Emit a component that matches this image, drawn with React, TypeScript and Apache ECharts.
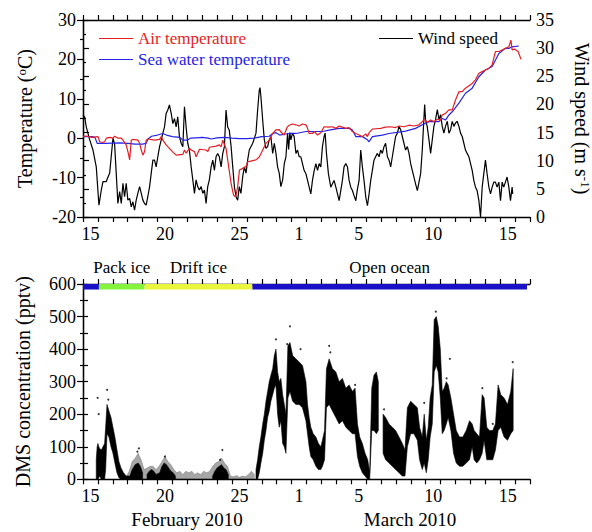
import React, { useEffect, useRef } from 'react';
import * as echarts from 'echarts';

const FONT = "'Liberation Serif', 'Times New Roman', serif";

// x positions are days since 15 Feb 2010 00:00
const dayLabels = ['15','16','17','18','19','20','21','22','23','24','25','26','27','28','1','2','3','4','5','6','7','8','9','10','11','12','13','14','15','16'];
const shownLabelIdx = [0, 5, 10, 14, 18, 23, 28];

const airTemp = [
[0,0.5],[0.23,0.55],[0.6,0.2],[1.01,0.4],[1.12,-0.9],[1.3,-1.1],[1.45,-0.9],[1.57,0],[1.8,0.2],[2.01,0],[2.12,0.5],[2.35,0],[2.57,0],[2.68,-0.5],[2.9,-1.7],[3.05,-4],[3.13,-5.5],[3.24,-0.5],[3.35,-0.3],[3.69,-0.5],[3.8,-1.3],[3.91,-3.0],[4.02,-4.3],[4.13,-3.4],[4.24,-0.5],[4.36,-0.2],[4.8,-0.5],[5.14,-0.3],[5.25,0.4],[5.36,-0.5],[5.58,-1.7],[6.0,-3.4],[6.25,-4.3],[6.7,-4.1],[6.81,-3.0],[6.92,-3.8],[7.15,-2.6],[7.26,-3.0],[7.48,-3.4],[7.59,-4.7],[7.82,-2.8],[8.26,-3.0],[8.38,-3.4],[8.49,-2.3],[8.93,-2.0],[9.16,-1.7],[9.27,-2.2],[9.38,-0.5],[9.6,-2.6],[9.71,-5.5],[9.94,-11.5],[10.1,-14.4],[10.2,-14.8],[10.28,-14.4],[10.38,-12.3],[10.5,-8.1],[10.94,-7.2],[11.05,-6.0],[11.61,-5.5],[11.84,-4.7],[12.06,-3.0],[12.28,-1.3],[12.5,-0.5],[12.73,1.2],[12.95,2.1],[13.17,2.2],[13.3,1.5],[13.5,0.8],[13.7,2.8],[13.84,3.3],
[14.06,3.6],[14.29,3.4],[14.51,3.1],[14.73,3.6],[14.96,3.4],[15.07,2.5],[15.18,1.2],[15.4,1.2],[15.52,1.7],[15.74,0.8],[15.96,1.4],[16.18,2.9],[16.47,2.8],[16.74,2.9],[16.97,2.5],[17.19,3.1],[17.41,2.8],[17.64,2.5],[17.86,2.7],[18.08,1.7],[18.31,1.2],[18.53,0.8],[18.75,0.4],[18.98,1.1],[19.09,0.4],[19.2,1.4],[19.42,2.3],[19.64,2.4],[19.98,2.5],[20.31,2.8],[20.65,2.9],[20.98,2.7],[21.21,3.1],[21.54,2.9],[21.88,3.3],[22.21,3.1],[22.55,3.4],[22.77,4.2],[22.93,4.8],[23.1,4.0],[23.33,4.6],[23.55,4.2],[23.78,4.8],[24.0,4.5],[24.11,5.9],[24.33,6.3],[24.56,7.2],[24.78,7.2],[25.0,9.7],[25.23,11.8],[25.45,11.8],[25.67,12.7],[25.9,13.3],[26.12,13.9],[26.34,14.8],[26.57,16.5],[26.79,16.9],[27.01,17.3],[27.24,17.7],[27.46,18.6],[27.57,20.3],[27.68,22.0],[27.91,22.0],[28.13,22.4],[28.35,22.8],[28.58,23.2],[28.72,24.9],[28.8,22.4],[28.98,22.6],[29.2,22.0],[29.4,20.0]
];

const seaTemp = [
[0,0.4],[0.6,0.4],[0.8,0.2],[0.95,-1.3],[1.5,-1.3],[2.5,-1.2],[3.0,-1.3],[3.5,-1.5],[4.0,-1.5],[4.24,-1.3],[4.36,-0.2],[4.6,0.5],[5.0,0.8],[5.36,1.2],[5.6,0.8],[6.0,0.4],[6.5,0.2],[6.7,-0.5],[7.0,-0.5],[7.2,0],[7.6,0.1],[8.0,0.2],[8.4,0],[8.6,-0.2],[9.0,0.1],[9.5,0.2],[10.0,0],[10.5,-0.1],[11.0,-0.1],[11.5,0],[12.0,0.4],[12.5,0.5],[12.73,1.2],[12.95,1.4],[13.2,0.8],[13.5,1.0],[13.84,1.2],[14.29,1.2],[14.96,1.7],[16.07,1.7],[16.6,2.1],[17.19,2.5],[17.86,2.5],[18.08,2.1],[18.31,0.4],[18.75,0.4],[19.09,-0.4],[19.2,-0.9],[19.42,0.4],[20.09,0.8],[20.54,1.2],[21.65,1.8],[22.32,2.5],[22.77,3.4],[23.22,4.2],[23.66,4.2],[23.89,4.2],[24.11,5.0],[24.33,4.6],[24.56,5.9],[24.78,6.7],[25.23,8.9],[25.67,11.4],[26.12,12.7],[26.57,15.6],[27.01,17.3],[27.46,18.2],[27.91,21.5],[28.35,22.8],[28.58,22.8],[28.8,23.2],[29.25,23.4]
];

const windSpeed = [
[0,18.1],[0.11,17.8],[0.22,16.0],[0.33,14.9],[0.45,13.7],[0.67,11.9],[0.89,8.9],[1.07,2.1],[1.23,4.8],[1.34,6.3],[1.56,6.3],[1.79,7.8],[2.01,14.0],[2.12,13.0],[2.23,7.8],[2.34,2.4],[2.46,4.5],[2.57,2.4],[2.68,6.0],[2.79,3.6],[2.9,6.0],[3.01,3.0],[3.13,3.3],[3.24,1.8],[3.35,2.7],[3.46,1.2],[3.57,3.0],[3.68,4.2],[3.8,5.4],[3.91,4.2],[4.02,3.0],[4.13,2.4],[4.24,2.1],[4.35,3.6],[4.47,5.4],[4.58,7.8],[4.69,10.1],[4.8,10.1],[4.91,8.9],[5.02,10.7],[5.14,12.5],[5.25,13.7],[5.36,14.9],[5.47,16.0],[5.58,18.4],[5.69,19.0],[5.8,19.9],[5.92,18.4],[6.03,16.6],[6.14,17.5],[6.25,16.0],[6.36,17.8],[6.47,14.3],[6.59,13.1],[6.7,12.5],[6.81,19.6],[6.92,16.0],[7.03,13.1],[7.14,11.9],[7.26,8.9],[7.37,6.6],[7.48,4.2],[7.59,6.6],[7.7,5.4],[7.81,4.8],[7.93,5.4],[8.04,4.2],[8.15,4.8],[8.26,2.4],[8.37,5.4],[8.48,6.6],[8.6,8.9],[8.71,10.1],[8.82,8.3],[8.93,10.7],[9.04,11.3],[9.15,10.7],[9.27,8.9],[9.38,11.3],[9.49,12.5],[9.6,19.0],[9.71,16.0],[9.82,15.4],[9.94,12.5],[10.05,8.9],[10.16,5.4],[10.27,3.6],[10.38,3.0],[10.49,5.4],[10.6,4.2],[10.72,7.2],[10.83,8.9],[10.94,7.8],[11.05,10.1],[11.16,11.9],[11.39,13.1],[11.61,14.9],[11.72,19.0],[11.83,22.5],[11.88,23.0],[11.94,21.4],[12.06,17.2],[12.17,13.7],[12.28,12.2],[12.39,12.5],[12.5,13.7],[12.61,14.3],[12.73,11.3],[12.84,13.1],[12.95,11.3],[13.06,8.9],[13.17,7.8],[13.28,5.4],[13.4,6.6],[13.51,9.5],[13.62,10.7],[13.73,14.9],[13.8,12.0],[13.88,15.0],[13.95,13.7],[14.06,14.9],[14.17,14.3],[14.29,11.3],[14.4,11.9],
[14.51,10.7],[14.62,10.7],[14.73,9.5],[14.84,8.3],[14.96,7.7],[15.07,6.5],[15.18,5.3],[15.29,4.1],[15.4,6.5],[15.52,8.3],[15.63,9.5],[15.74,8.3],[15.85,9.5],[15.96,8.9],[16.07,12.5],[16.18,14.3],[16.25,14.9],[16.34,11.3],[16.47,7.7],[16.63,5.3],[16.74,5.9],[16.85,6.5],[16.97,5.3],[17.08,4.1],[17.19,2.9],[17.3,4.7],[17.41,6.5],[17.52,8.9],[17.64,9.5],[17.75,8.9],[17.86,6.5],[17.97,5.3],[18.08,4.7],[18.19,3.8],[18.31,2.9],[18.42,5.0],[18.53,6.5],[18.64,11.9],[18.75,8.9],[18.86,6.5],[18.98,3.5],[19.09,2.0],[19.2,4.1],[19.31,6.5],[19.42,8.3],[19.53,10.1],[19.64,10.7],[19.76,11.3],[19.87,10.7],[19.98,11.9],[20.09,11.3],[20.2,12.5],[20.31,13.1],[20.43,10.7],[20.54,10.1],[20.65,8.9],[20.76,10.7],[20.87,12.5],[20.98,14.3],[21.1,14.9],[21.21,16.1],[21.32,15.5],[21.43,14.3],[21.54,13.1],[21.65,11.9],[21.77,12.5],[21.88,11.3],[21.99,9.5],[22.1,8.3],[22.21,7.1],[22.32,5.9],[22.44,4.7],[22.55,6.2],[22.66,7.7],[22.77,11.9],[22.84,15.5],[22.93,20.0],[22.99,17.3],[23.1,16.1],[23.22,13.7],[23.33,11.3],[23.44,13.7],[23.55,16.1],[23.66,17.3],[23.78,19.1],[23.89,17.3],[24.0,18.2],[24.11,16.1],[24.22,14.9],[24.33,16.1],[24.45,17.0],[24.56,14.9],[24.67,15.5],[24.78,17.0],[24.89,16.1],[25.0,16.7],[25.11,17.0],[25.23,16.1],[25.34,14.9],[25.45,14.3],[25.56,13.1],[25.67,11.9],[25.78,11.3],[25.9,10.7],[26.01,9.5],[26.12,8.3],[26.23,6.5],[26.34,5.3],[26.45,4.7],[26.57,2.9],[26.68,0],[26.79,5.3],[26.9,7.7],[27.01,10.1],[27.12,7.7],[27.24,5.3],[27.35,4.1],[27.46,5.3],[27.57,6.2],[27.68,6.2],[27.79,5.3],[27.91,6.2],[28.02,2.9],[28.13,6.2],[28.24,5.3],[28.35,6.2],[28.46,7.1],[28.58,5.3],[28.69,2.9],[28.8,5.3],[28.84,4.1]
];

// DMS concentration: [day, low, high] of the dense point cloud
const dmsDense = [
[0.89,0,60],[0.95,0,100],[1.0,0,110],[1.06,5,100],[1.12,10,95],[1.23,0,90],[1.34,0,100],[1.45,0,110],
[1.52,30,160],[1.61,140,230],[1.74,130,210],[1.88,100,190],[2.01,80,160],[2.14,50,130],[2.28,20,90],[2.41,5,55],[2.55,0,35],[2.72,0,20],[2.9,0,10],
[3.15,0,10],[3.3,0,30],[3.5,0,45],[3.7,0,50],[3.85,0,40],[4.0,0,20],
[4.3,0,15],[4.45,0,25],[4.6,0,30],[4.75,0,25],[4.9,0,15],
[5.15,0,20],[5.3,0,40],[5.45,0,50],[5.6,0,45],[5.75,0,35],[5.9,0,25],[6.05,0,20],[6.2,0,10],
[8.7,0,10],[8.85,0,25],[9.0,0,35],[9.15,0,40],[9.3,0,45],[9.45,0,35],[9.6,0,30],[9.75,0,15],
[11.61,0,30],[11.72,0,60],[11.83,20,100],[11.94,50,130],[12.06,80,170],[12.17,120,200],[12.28,150,240],[12.39,190,270],[12.5,210,300],[12.61,240,320],[12.73,260,340],[12.84,280,380],[12.95,290,400],[13.06,200,330],[13.17,160,300],[13.28,180,310],[13.4,110,260],[13.51,100,230],[13.62,80,200],[13.75,250,410],[13.89,270,420],[14.07,240,380],[14.29,230,370],[14.51,230,360],[14.73,220,350],[14.96,180,300],[15.07,140,230],[15.18,100,190],[15.29,70,160],[15.45,60,140],[15.63,40,130],[15.8,30,110],[15.96,30,100],[16.07,40,120],[16.21,60,150],[16.34,220,340],[16.52,230,370],[16.74,210,340],[16.97,190,330],[17.19,170,300],[17.41,180,310],[17.64,160,280],[17.86,150,290],[18.08,140,270],[18.26,140,280],[18.42,70,170],[18.57,40,130],[18.75,20,110],[18.93,10,80],[19.11,0,60],[19.24,0,20],
[19.38,150,280],[19.53,150,320],[19.69,140,330],[19.82,150,300],
[20.14,80,200],[20.31,60,190],[20.54,50,170],[20.76,40,160],[20.98,30,150],[21.21,20,130],[21.43,10,110],[21.61,10,90],[21.77,100,220],[21.99,140,240],[22.21,140,230],[22.44,120,220],[22.59,60,160],[22.77,30,130],[22.9,50,200],[23.04,20,120],[23.17,60,160],[23.3,130,250],[23.44,170,290],[23.57,330,490],[23.71,350,500],[23.84,330,470],[23.98,250,400],[24.11,140,270],[24.24,150,280],[24.38,170,300],[24.51,190,290],[24.69,150,250],[24.87,80,200],[25.05,50,150],[25.27,40,130],[25.49,40,130],[25.72,50,150],[25.94,60,180],[26.12,100,170],[26.25,60,150],[26.43,50,140],[26.61,60,130],[26.79,80,260],[26.92,120,250],[27.1,60,160],[27.28,60,150],[27.5,60,150],[27.68,90,170],[27.86,150,290],[28.04,160,260],[28.26,130,250],[28.49,120,230],[28.71,140,270],[28.87,150,340]
];

// DMS concentration: [day, low, high] of the sparse low-level points
const dmsSparse = [
[2.9,0,8],[3.1,0,25],[3.3,0,55],[3.5,0,65],[3.7,0,80],[3.9,0,60],[4.1,0,30],[4.3,0,35],[4.5,0,40],[4.7,0,40],[4.9,0,30],[5.1,0,40],[5.3,0,55],[5.5,0,70],[5.7,0,55],[5.9,0,45],[6.1,0,30],[6.3,0,20],[6.5,0,25],[6.7,0,15],[6.9,0,25],[7.1,0,20],[7.3,0,25],[7.5,0,15],[7.7,0,20],[7.9,0,15],[8.1,0,25],[8.3,0,20],[8.5,0,25],[8.7,0,40],[8.9,0,50],[9.1,0,55],[9.3,0,65],[9.5,0,50],[9.7,0,40],[9.9,0,10],[10.1,0,8],[10.3,0,12],[10.5,0,6],[10.7,0,10],[10.9,0,8],[11.1,0,15],[11.3,0,25],[11.5,0,15]
];

const dmsOutliers = [
[0.98,250],[1.05,200],[1.62,275],[1.7,245],[3.75,95],[3.65,85],[5.5,70],[9.35,90],[9.2,60],[12.95,430],[13.89,470],[13.7,415],[16.52,410],[16.6,390],[18.26,290],[22.9,235],[23.68,515],[24.62,370],[24.4,310],[26.8,280],[28.84,360],[27.5,170],[20.2,215],[14.6,400]
];

const zoneNames = ['', 'Pack ice', 'Drift ice', 'Open ocean'];
const zoneStart = [0, 1.07, 4.13, 11.37];
const zoneEnd = [1.07, 4.13, 11.37, 29.8];
const zoneColors = ['#1a10c8', '#84f43a', '#eaf63c', '#1a10c8'];

const RED = '#e51e25';
const BLUE = '#2424e8';

// Draws each contiguous run of [day, low, high] ranges as one filled polygon.
function bandRenderer(arr: number[][], maxGap: number, fill: string, opacity: number) {
  return (params: any, api: any) => {
    const i = params.dataIndex;
    const isStart = i === 0 || arr[i][0] - arr[i - 1][0] > maxGap;
    if (!isStart) return null;
    let j = i;
    while (j + 1 < arr.length && arr[j + 1][0] - arr[j][0] <= maxGap) j++;
    if (j === i) {
      const a = api.coord([arr[i][0], arr[i][2]]);
      const b = api.coord([arr[i][0], arr[i][1]]);
      return { type: 'rect', shape: { x: a[0] - 0.75, y: a[1], width: 1.5, height: b[1] - a[1] }, style: { fill, opacity } };
    }
    const pts: number[][] = [];
    for (let k = i; k <= j; k++) pts.push(api.coord([arr[k][0], arr[k][2]]));
    for (let k = j; k >= i; k--) pts.push(api.coord([arr[k][0], arr[k][1]]));
    return { type: 'polygon', shape: { points: pts }, style: { fill, opacity, stroke: fill, lineWidth: 0.6 } };
  };
}

const axisLineStyle = { color: '#000', width: 1.3 };
const labelStyle = { color: '#000', fontSize: 18, fontFamily: FONT };

function xAxesFor(grid: number) {
  const base = {
    gridIndex: grid, type: 'value', min: 0, max: 30, interval: 1,
    axisLine: { show: true, lineStyle: axisLineStyle, onZero: false },
    axisTick: { show: true, inside: false, length: 5, lineStyle: { color: '#000', width: 1.2 } },
    axisLabel: { show: false }, splitLine: { show: false },
  };
  return [
    { ...base, position: 'bottom' },
    { ...base, position: 'top' },
  ];
}

function labelAxisFor(grid: number) {
  return {
    gridIndex: grid, type: 'category', position: 'bottom', data: dayLabels, boundaryGap: true,
    axisLine: { show: false }, axisTick: { show: false }, splitLine: { show: false },
    axisLabel: { ...labelStyle, margin: 8, interval: (idx: number) => shownLabelIdx.includes(idx) },
  };
}

const nameRich = {
  n: { fontSize: 20, fontFamily: FONT, color: '#000' },
  s: { fontSize: 13, fontFamily: FONT, color: '#000', verticalAlign: 'top' },
};

const option: any = {
  animation: false,
  backgroundColor: '#fff',
  textStyle: { fontFamily: FONT },
  grid: [
    { left: 83, right: 62, top: 20, height: 197, containLabel: false, outerBoundsMode: 'none' },
    { left: 83, right: 62, top: 284, height: 195.3, containLabel: false, outerBoundsMode: 'none' },
  ],
  xAxis: [
    ...xAxesFor(0), // 0,1
    ...xAxesFor(1), // 2,3
    labelAxisFor(0), // 4
    labelAxisFor(1), // 5
  ],
  yAxis: [
    {
      gridIndex: 0, type: 'value', position: 'left', min: -20, max: 30, interval: 10,
      axisLine: { show: true, lineStyle: axisLineStyle },
      axisTick: { show: true, length: 6, lineStyle: { color: '#000', width: 1.2 } },
      minorTick: { show: true, splitNumber: 2, length: 3, lineStyle: { color: '#000', width: 1.2 } },
      axisLabel: { ...labelStyle, margin: 7 }, splitLine: { show: false },
      name: '{n|Temperature (}{s|o}{n|C)}', nameLocation: 'middle', nameGap: 48, nameRotate: 90,
      nameTextStyle: { rich: nameRich },
    },
    {
      gridIndex: 0, type: 'value', position: 'right', min: 0, max: 35, interval: 5,
      axisLine: { show: true, lineStyle: axisLineStyle },
      axisTick: { show: true, length: 6, lineStyle: { color: '#000', width: 1.2 } },
      minorTick: { show: true, splitNumber: 2, length: 3, lineStyle: { color: '#000', width: 1.2 } },
      axisLabel: { ...labelStyle, margin: 6 }, splitLine: { show: false },
      name: '{n|Wind speed (m s}{s|-1}{n|)}', nameLocation: 'middle', nameGap: 42, nameRotate: -90,
      nameTextStyle: { rich: nameRich },
    },
    {
      gridIndex: 1, type: 'value', position: 'left', min: 0, max: 600, interval: 100,
      axisLine: { show: true, lineStyle: axisLineStyle },
      axisTick: { show: true, length: 6, lineStyle: { color: '#000', width: 1.2 } },
      minorTick: { show: true, splitNumber: 2, length: 3, lineStyle: { color: '#000', width: 1.2 } },
      axisLabel: { ...labelStyle, margin: 7 }, splitLine: { show: false },
      name: 'DMS concentration (pptv)', nameLocation: 'middle', nameGap: 50, nameRotate: 90,
      nameTextStyle: { fontSize: 20, fontFamily: FONT, color: '#000' },
    },
    {
      gridIndex: 1, type: 'value', position: 'right', min: 0, max: 600, interval: 50,
      axisLine: { show: true, lineStyle: axisLineStyle },
      axisTick: { show: true, length: 5, lineStyle: { color: '#000', width: 1.2 } },
      axisLabel: { show: false }, splitLine: { show: false },
    },
  ],
  legend: [
    {
      orient: 'vertical', left: 94, top: 25, itemWidth: 34, itemHeight: 14, itemGap: 4,
      icon: 'path://M0,0L0,0M0,14L0,14M0,6.4L34,6.4L34,7.6L0,7.6Z',
      textStyle: { fontSize: 17, fontFamily: FONT },
      data: [
        { name: 'Air temperature', textStyle: { color: RED } },
        { name: 'Sea water temperature', textStyle: { color: BLUE } },
      ],
    },
    {
      orient: 'vertical', left: 374, top: 25, itemWidth: 34, itemHeight: 14,
      icon: 'path://M0,0L0,0M0,14L0,14M0,6.4L34,6.4L34,7.6L0,7.6Z',
      textStyle: { fontSize: 17, fontFamily: FONT, color: '#000' },
      data: [{ name: 'Wind speed' }],
    },
  ],
  graphic: [
    { type: 'text', x: 187, y: 519, style: { text: 'February 2010', font: `19px ${FONT}`, fill: '#000', textAlign: 'center', textVerticalAlign: 'middle' } },
    { type: 'text', x: 410, y: 519, style: { text: 'March 2010', font: `19px ${FONT}`, fill: '#000', textAlign: 'center', textVerticalAlign: 'middle' } },
  ],
  series: [
    {
      name: 'Wind speed', type: 'line', xAxisIndex: 0, yAxisIndex: 1, data: windSpeed,
      symbol: 'none', lineStyle: { color: '#000', width: 1.2 }, itemStyle: { color: '#000' },
    },
    {
      name: 'Sea water temperature', type: 'line', xAxisIndex: 0, yAxisIndex: 0, data: seaTemp,
      symbol: 'none', lineStyle: { color: BLUE, width: 1.2 }, itemStyle: { color: BLUE },
    },
    {
      name: 'Air temperature', type: 'line', xAxisIndex: 0, yAxisIndex: 0, data: airTemp,
      symbol: 'none', lineStyle: { color: RED, width: 1.2 }, itemStyle: { color: RED },
    },
    {
      name: 'DMS sparse', type: 'custom', xAxisIndex: 2, yAxisIndex: 2, data: dmsSparse,
      encode: { x: 0, y: [1, 2] }, clip: true,
      renderItem: bandRenderer(dmsSparse, 0.25, '#000', 0.35),
    },
    {
      name: 'DMS dense', type: 'custom', xAxisIndex: 2, yAxisIndex: 2, data: dmsDense,
      encode: { x: 0, y: [1, 2] }, clip: true,
      renderItem: bandRenderer(dmsDense, 0.25, '#000', 1),
    },
    {
      name: 'DMS points', type: 'scatter', xAxisIndex: 2, yAxisIndex: 2, data: dmsOutliers,
      symbolSize: 2, itemStyle: { color: '#000' },
      markArea: {
        silent: true,
        label: { show: true, position: 'top', distance: 8, color: '#000', fontSize: 17, fontFamily: FONT },
        data: zoneNames.map((n, i) => [
          { name: n, xAxis: zoneStart[i], yAxis: 583, itemStyle: { color: zoneColors[i], opacity: 1 } },
          { xAxis: zoneEnd[i], yAxis: 600 },
        ]),
      },
    },
  ],
};

export default function App() {
  const ref = useRef<HTMLDivElement>(null);
  useEffect(() => {
    const chart = echarts.init(ref.current!, null, { renderer: 'svg' });
    chart.setOption(option);
    return () => chart.dispose();
  }, []);
  return (
    <div
      ref={ref}
      style={{ position: 'fixed', left: 0, top: 0, width: 592, height: 532, background: '#fff' }}
    />
  );
}
